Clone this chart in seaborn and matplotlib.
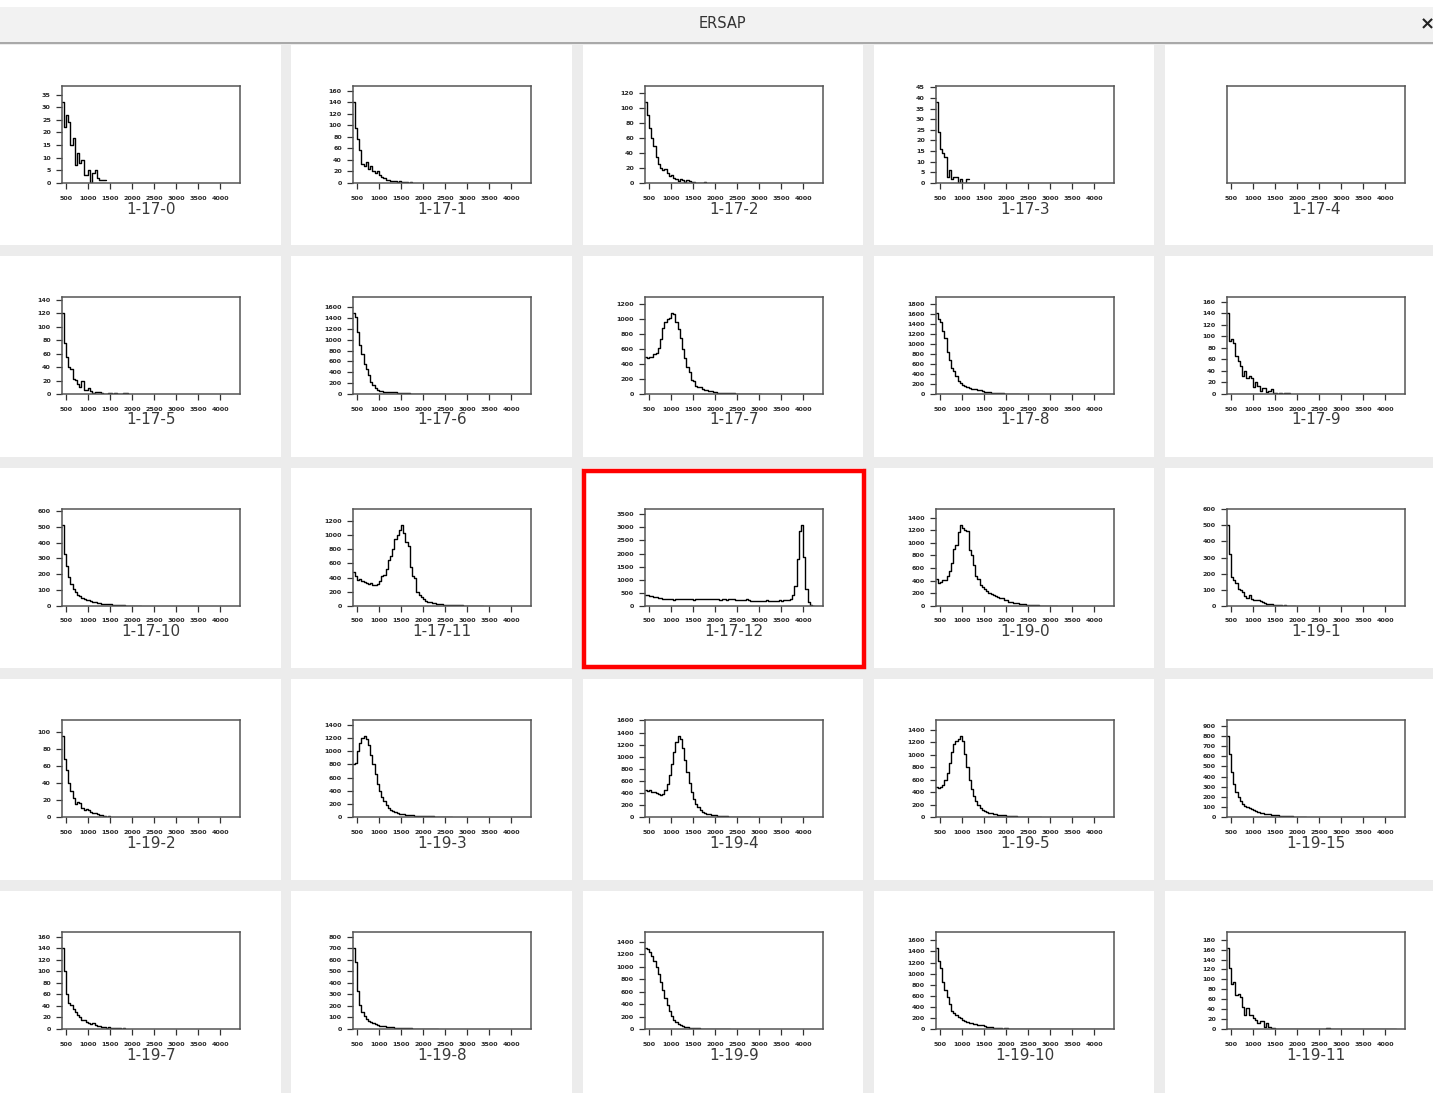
import matplotlib
matplotlib.use('Agg')
import numpy as np
import pandas as pd
import matplotlib.pyplot as plt
from matplotlib.patches import Rectangle
from matplotlib.ticker import MaxNLocator
import seaborn as sns

# histogram binning (ADC channels), 50 wide starting at 400
bin_start = 400
bin_width = 50
x_ticks = [500, 1000, 1500, 2000, 2500, 3000, 3500, 4000]

# counts per bin (trailing bins are empty)
h_1_17_0 = [32, 22, 27, 24, 15, 18, 7, 12, 8, 9, 3, 3, 5, 0, 4, 5, 2, 1, 1, 1]
h_1_17_1 = [140, 95, 76, 58, 33, 30, 36, 25, 29, 21, 18, 20, 13, 10, 8, 6, 5, 3, 4, 3,
            2, 3, 2, 1, 1, 0, 1]
h_1_17_2 = [108, 91, 74, 60, 49, 35, 26, 20, 17, 19, 13, 9, 11, 7, 5, 3, 6, 4, 2, 4,
            3, 1, 1, 0, 0, 0, 0, 1]
h_1_17_3 = [38, 24, 16, 14, 12, 3, 6, 2, 3, 3, 0, 2, 0, 0, 2]
h_1_17_4 = []
h_1_17_5 = [120, 76, 55, 40, 37, 23, 21, 15, 10, 20, 6, 6, 9, 4, 1, 3, 3, 3, 1, 0,
            0, 1, 1, 0, 1, 0, 0, 0, 1, 1]
h_1_17_6 = [1490, 1420, 1150, 900, 740, 550, 460, 350, 220, 160, 110, 80, 60, 50, 45, 40,
            40, 35, 30, 30, 25, 20, 15, 15, 12, 10, 8, 8, 6, 6, 5, 5, 4, 4, 3, 3,
            3, 2, 2, 2, 1, 1]
h_1_17_7 = [500, 480, 490, 500, 530, 550, 610, 740, 880, 960, 1000, 1010, 1080, 1070, 960,
            870, 750, 600, 480, 360, 300, 190, 180, 110, 100, 90, 70, 60, 50, 45, 40,
            30, 25, 20, 20, 15, 12, 10, 10, 8, 8, 6, 5, 5, 4, 3, 0, 3, 0, 0, 2, 0, 2]
h_1_17_8 = [1620, 1500, 1450, 1260, 1130, 850, 680, 520, 470, 370, 270, 230, 190, 165,
            150, 130, 110, 100, 100, 90, 75, 60, 45, 40, 35, 30, 25, 20, 15, 15, 12,
            10, 10, 8, 8, 6, 5, 3]
h_1_17_9 = [140, 92, 95, 88, 65, 57, 48, 32, 40, 27, 31, 27, 12, 20, 13, 5, 10, 10, 4,
            5, 8, 2, 1, 0, 1, 0, 1, 1, 1]
h_1_17_10 = [510, 330, 250, 180, 140, 110, 90, 70, 60, 50, 45, 40, 35, 30, 25, 25, 20,
             18, 15, 15, 12, 12, 10, 8, 8, 6, 5, 5, 4, 3, 3, 2, 2, 1, 1, 1]
h_1_17_11 = [480, 430, 360, 380, 350, 335, 325, 310, 320, 290, 300, 310, 350, 420, 440,
             520, 650, 700, 810, 940, 1000, 1070, 1140, 1030, 900, 850, 550, 420, 390,
             200, 160, 130, 100, 75, 55, 50, 45, 40, 35, 30, 25, 20, 20, 18, 15, 12,
             10, 10, 8, 8, 6, 5, 5, 4, 3, 0, 0, 0, 5]
h_1_17_12 = [430, 410, 390, 370, 350, 330, 320, 300, 270, 260, 262, 255, 258, 240, 255,
             258, 252, 256, 250, 255, 258, 252, 240, 255, 250, 258, 252, 255, 248, 255,
             252, 258, 250, 255, 245, 258, 250, 240, 255, 250, 252, 235, 245, 228, 240,
             232, 250, 225, 192, 185, 195, 200, 188, 200, 195, 210, 190, 200, 205, 195,
             200, 210, 205, 210, 215, 220, 250, 420, 750, 1780, 2850, 3080, 1850, 650,
             150, 30, 5]
h_1_19_0 = [430, 360, 380, 410, 410, 480, 550, 680, 900, 960, 1170, 1280, 1240, 1200,
            1180, 880, 800, 650, 480, 420, 330, 300, 270, 230, 200, 190, 170, 160, 150,
            130, 120, 100, 90, 70, 60, 55, 50, 40, 35, 30, 25, 20, 18, 15, 12, 10, 8,
            6, 5, 4, 3, 2, 0, 3, 1]
h_1_19_1 = [500, 320, 180, 160, 140, 105, 100, 85, 60, 50, 70, 45, 40, 38, 35, 30, 22,
            20, 15, 12, 10, 8, 6, 5, 5, 3, 4, 2, 3, 2, 1]
h_1_19_2 = [95, 68, 55, 40, 30, 22, 15, 18, 16, 10, 8, 9, 8, 6, 5, 5, 3, 2, 2, 1, 0, 1]
h_1_19_3 = [800, 820, 1000, 1130, 1200, 1230, 1190, 1100, 950, 800, 650, 500, 400, 310,
            240, 180, 140, 110, 90, 75, 60, 50, 45, 40, 35, 30, 28, 25, 22, 20, 18, 15,
            14, 12, 10, 9, 8, 6, 5, 4, 3, 3, 2, 2, 1]
h_1_19_4 = [450, 430, 440, 420, 420, 400, 380, 360, 380, 450, 550, 700, 880, 1080, 1250,
            1340, 1300, 1150, 950, 750, 560, 420, 300, 210, 160, 120, 90, 70, 55, 45,
            35, 30, 25, 20, 18, 15, 12, 10, 8, 6, 5, 4, 3, 2, 2, 1, 1, 1]
h_1_19_5 = [480, 470, 490, 520, 600, 700, 870, 1050, 1180, 1230, 1250, 1300, 1220, 1020,
            800, 600, 450, 330, 250, 190, 150, 120, 100, 85, 70, 60, 50, 45, 40, 35,
            30, 25, 20, 18, 15, 12, 10, 8, 6, 5, 4, 3, 2, 2, 1, 1, 1, 1]
h_1_19_15 = [800, 620, 450, 330, 250, 200, 160, 130, 110, 95, 85, 75, 65, 55, 48, 42,
             38, 32, 28, 25, 22, 20, 17, 15, 12, 10, 9, 8, 6, 5, 4, 4, 3, 2, 2, 1]
h_1_19_7 = [140, 100, 60, 45, 42, 35, 30, 25, 20, 15, 15, 12, 10, 8, 10, 7, 5, 6, 4, 3,
            2, 3, 2, 1, 2, 1, 1, 0, 1]
h_1_19_8 = [700, 580, 330, 210, 150, 110, 85, 70, 58, 48, 40, 35, 30, 26, 22, 20, 18,
            15, 14, 12, 10, 9, 8, 7, 6, 5, 5, 4, 3, 3, 2, 2, 2, 1, 1, 1, 1, 0, 1]
h_1_19_9 = [1300, 1280, 1240, 1180, 1100, 1000, 880, 760, 620, 500, 380, 290, 210, 150,
            110, 80, 60, 45, 35, 28, 22, 18, 15, 12, 10, 8, 6, 5, 4, 3, 3, 2, 2, 1, 1,
            1, 1, 1, 1]
h_1_19_10 = [1460, 1230, 1100, 850, 700, 580, 450, 330, 290, 250, 220, 190, 170, 140,
             120, 110, 100, 90, 85, 80, 75, 65, 55, 45, 38, 30, 22, 15, 12, 10, 8, 10,
             25, 8, 6, 6, 5, 5, 4, 5, 4, 3, 4, 4, 3, 3, 4, 3, 3, 2, 3, 3, 2, 2, 3, 2,
             2, 3, 2, 2, 1, 2, 2, 1, 2, 2, 1, 2, 1, 2, 1, 1, 2, 1, 1, 1, 2, 1, 1]
h_1_19_11 = [163, 124, 90, 95, 68, 70, 65, 45, 28, 42, 28, 28, 22, 18, 12, 17, 17, 5, 12,
             4, 3, 3, 1, 0, 0, 0, 0, 1, 0, 1, 1, 0, 1, 0, 0, 0, 0, 1, 0, 0, 1, 0, 0,
             1, 0, 2, 3, 0, 1, 0, 0, 0, 1, 0, 1, 0, 0, 0, 0, 0, 0, 1, 0, 0, 0, 0, 1,
             0, 0, 0, 0, 0, 0, 0, 0, 0, 1]

names = ['1-17-0', '1-17-1', '1-17-2', '1-17-3', '1-17-4',
         '1-17-5', '1-17-6', '1-17-7', '1-17-8', '1-17-9',
         '1-17-10', '1-17-11', '1-17-12', '1-19-0', '1-19-1',
         '1-19-2', '1-19-3', '1-19-4', '1-19-5', '1-19-15',
         '1-19-7', '1-19-8', '1-19-9', '1-19-10', '1-19-11']
hists = [h_1_17_0, h_1_17_1, h_1_17_2, h_1_17_3, h_1_17_4,
         h_1_17_5, h_1_17_6, h_1_17_7, h_1_17_8, h_1_17_9,
         h_1_17_10, h_1_17_11, h_1_17_12, h_1_19_0, h_1_19_1,
         h_1_19_2, h_1_19_3, h_1_19_4, h_1_19_5, h_1_19_15,
         h_1_19_7, h_1_19_8, h_1_19_9, h_1_19_10, h_1_19_11]
selected = '1-17-12'

sns.set_style('white')
plt.rcParams['font.family'] = ['DejaVu Sans']
plt.rcParams['font.weight'] = 'bold'

W, H = 1433, 1093
fig = plt.figure(figsize=(W / 100, H / 100), dpi=100)
fig.patch.set_facecolor('#ececec')


def box(x0, y0, x1, y1):
    # pixel box (top-left origin) -> figure fraction rect
    return [x0 / W, 1 - y1 / H, (x1 - x0) / W, (y1 - y0) / H]


def rect(x0, y0, x1, y1, z=-10, **kw):
    l, b, w, h = box(x0, y0, x1, y1)
    fig.add_artist(Rectangle((l, b), w, h, transform=fig.transFigure, zorder=z, **kw))


# window title bar
rect(0, 0, W, 7, facecolor='white', edgecolor='none')
rect(0, 7, W, 42, facecolor='#f2f2f2', edgecolor='none')
rect(0, 42, W, 44, facecolor='#a9a9a9', edgecolor='none')
fig.text(722 / W, 1 - 24 / H, 'ERSAP', ha='center', va='center', fontsize=10.5,
         color='#333333', fontweight='normal')
fig.text(1427 / W, 1 - 24 / H, '×', ha='center', va='center', fontsize=13,
         color='#222222')

col_x = [(0, 281), (291, 572), (583, 863), (874, 1154), (1165, 1433)]
row_y = [(45, 245), (256, 457), (468, 668), (679, 880), (891, 1093)]

for i, (name, counts) in enumerate(zip(names, hists)):
    r, c = divmod(i, 5)
    cx0, cx1 = col_x[c]
    cy0, cy1 = row_y[r]
    rect(cx0, cy0, cx1, cy1, facecolor='white', edgecolor='none')

    ax = fig.add_axes(box(cx0 + 62, cy0 + 41, cx0 + 240, cy0 + 138))
    if counts:
        edges = bin_start + bin_width * np.arange(len(counts) + 1)
        df = pd.DataFrame({'adc': edges[:-1] + bin_width / 2, 'n': counts})
        sns.histplot(data=df, x='adc', weights='n', bins=list(edges), element='step',
                     fill=False, color='black', linewidth=1.0, ax=ax)
        ax.set_ylim(0, 1.2 * max(counts))
        ax.yaxis.set_major_locator(MaxNLocator(nbins=10, steps=[1, 2, 5, 10]))
    else:
        ax.set_ylim(0, 1)
        ax.set_yticks([])
    ax.set_xlim(410, 4450)
    ax.set_xticks(x_ticks)
    ax.set_xlabel('')
    ax.set_ylabel('')
    ax.tick_params(axis='both', direction='out', length=4, width=0.9,
                   labelsize=4.6, bottom=True, left=True, color='#333333')
    ax.tick_params(axis='x', pad=5)
    ax.tick_params(axis='y', pad=4)
    for s in ax.spines.values():
        s.set_color('#555555')
        s.set_linewidth(1.1)

    fig.text((cx0 + 151) / W, 1 - (cy0 + 164) / H, name, ha='center', va='center',
             fontsize=11, color='#3a3a3a', fontweight='normal')

    if name == selected:
        rect(cx0 + 1, cy0 + 3, cx0 + 281, cy1 - 1, z=10, facecolor='none',
             edgecolor='#ff0000', linewidth=3.2)

fig.savefig('out.png', dpi=100, facecolor=fig.get_facecolor())
